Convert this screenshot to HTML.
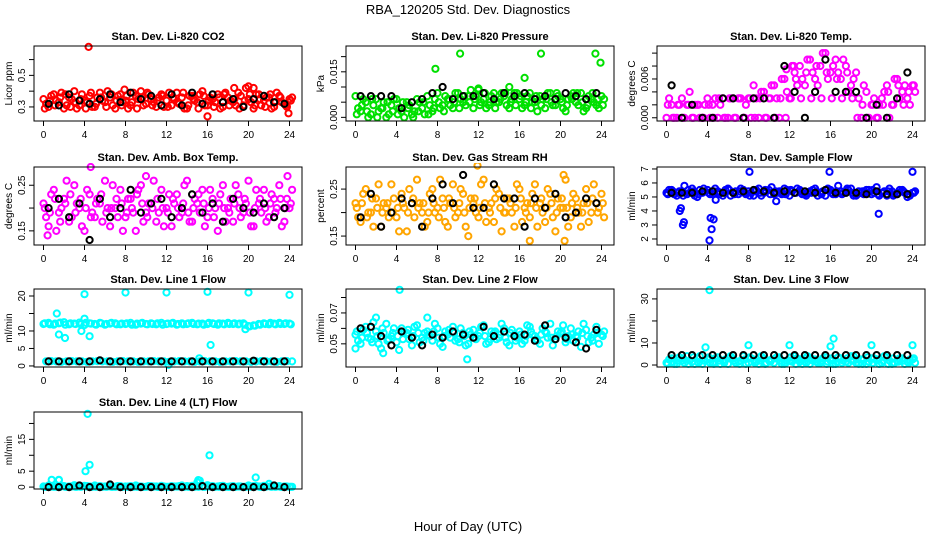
<!DOCTYPE html>
<html><head><meta charset="utf-8">
<style>
html,body{margin:0;padding:0;background:#fff;}
svg{display:block;font-family:"Liberation Sans",Arial,sans-serif;}
</style></head>
<body>
<svg id="chart" width="936" height="540" viewBox="0 0 936 540" xmlns="http://www.w3.org/2000/svg">
<rect x="0" y="0" width="936" height="540" fill="#fff"/>
<text x="468" y="14" text-anchor="middle" font-size="13">RBA_120205  Std. Dev. Diagnostics</text>
<text x="468" y="531" text-anchor="middle" font-size="13">Hour of Day (UTC)</text>
</svg>
<script>
const xTicks=[0,4,8,12,16,20,24];
const co2A=[0.35,0.30,0.38,0.33,0.29,0.36,0.40,0.31,0.34,0.37,0.30,0.39,0.33,0.36,0.29,0.38,0.34,0.31,0.37,0.40,0.32,0.35,0.30,0.38,0.34,0.31,0.39,0.36,0.29,0.37,0.33,0.40,0.31,0.35,0.38,0.30,0.36,0.33,0.39,0.31,0.35,0.29,0.38,0.34,0.36,0.30,0.37,0.32,0.35];
const co2B=[0.32,0.37,0.34,0.39,0.31,0.35,0.29,0.38,0.33,0.30,0.36,0.34,0.40,0.31,0.37,0.33,0.29,0.39,0.35,0.31,0.38,0.33,0.36,0.30,0.39,0.35,0.32,0.29,0.37,0.34,0.38,0.31,0.36,0.33,0.29,0.39,0.34,0.31,0.37,0.42,0.33,0.38,0.31,0.36,0.29,0.39,0.33,0.30,0.36];
const co2C=[0.29,0.34,0.31,0.36,0.38,0.30,0.33,0.35,0.29,0.39,0.32,0.36,0.30,0.38,0.34,0.31,0.37,0.33,0.29,0.36,0.39,0.31,0.34,0.37,0.30,0.36,0.33,0.39,0.31,0.35,0.29,0.37,0.34,0.30,0.36,0.38,0.31,0.35,0.29,0.34,0.38,0.31,0.35,0.30,0.38,0.33,0.36,0.31,0.34];
const co2K=[0.32,0.31,0.38,0.34,0.32,0.35,0.38,0.33,0.39,0.35,0.37,0.31,0.38,0.31,0.39,0.32,0.38,0.33,0.35,0.30,0.35,0.37,0.33,0.32];
const co2OutX=[4.4,16,18.6,20,20.5,23.9,7.9];
const co2OutY=[0.68,0.24,0.42,0.43,0.42,0.26,0.41];
const presA=[0.007,0.002,0.005,0.001,0.006,0.003,0.000,0.004,0.006,0.002,0.005,0.001,0.006,0.003,0.007,0.002,0.008,0.004,0.006,0.003,0.008,0.005,0.007,0.003,0.009,0.006,0.004,0.008,0.005,0.007,0.003,0.008,0.006,0.004,0.008,0.005,0.007,0.003,0.008,0.004,0.006,0.002,0.007,0.005,0.008,0.003,0.006,0.004,0.007];
const presB=[0.003,0.006,0.000,0.004,0.002,0.005,0.001,0.006,0.003,0.000,0.004,0.002,0.005,0.001,0.004,0.006,0.003,0.007,0.004,0.008,0.006,0.004,0.009,0.007,0.005,0.003,0.007,0.005,0.008,0.004,0.006,0.008,0.003,0.007,0.005,0.002,0.006,0.008,0.004,0.007,0.003,0.006,0.008,0.004,0.002,0.007,0.005,0.003,0.006];
const presC=[0.001,0.004,0.002,0.006,0.000,0.003,0.005,0.002,0.001,0.005,0.003,0.000,0.002,0.005,0.001,0.003,0.005,0.002,0.006,0.005,0.003,0.007,0.005,0.006,0.004,0.008,0.005,0.003,0.006,0.008,0.005,0.004,0.007,0.005,0.003,0.007,0.004,0.006,0.005,0.008,0.005,0.004,0.006,0.008,0.005,0.004,0.008,0.006,0.004];
const presK=[0.007,0.007,0.007,0.007,0.003,0.005,0.006,0.008,0.010,0.006,0.007,0.007,0.008,0.006,0.008,0.007,0.008,0.006,0.007,0.006,0.008,0.007,0.006,0.008];
const presOutX=[7.8,10.2,15,16.5,18.1,23.4,23.9,12];
const presOutY=[0.016,0.021,0.010,0.013,0.021,0.021,0.018,0.0095];
const tempA=[0.000,0.002,0.000,0.003,0.002,0.000,0.002,0.000,0.003,0.002,0.000,0.003,0.000,0.003,0.003,0.000,0.003,0.005,0.000,0.004,0.003,0.005,0.000,0.006,0.003,0.007,0.008,0.005,0.009,0.006,0.008,0.010,0.007,0.009,0.006,0.008,0.005,0.007,0.000,0.004,0.002,0.000,0.003,0.005,0.002,0.006,0.004,0.003,0.005];
const tempB=[0.003,0.000,0.002,0.000,0.004,0.002,0.000,0.002,0.000,0.003,0.002,0.000,0.003,0.000,0.003,0.002,0.000,0.003,0.004,0.000,0.005,0.003,0.006,0.004,0.008,0.005,0.006,0.009,0.007,0.005,0.010,0.006,0.008,0.007,0.009,0.004,0.006,0.003,0.005,0.000,0.003,0.002,0.004,0.000,0.006,0.003,0.005,0.002,0.004];
const tempC=[0.002,0.000,0.002,0.000,0.002,0.000,0.002,0.000,0.002,0.000,0.003,0.000,0.003,0.000,0.003,0.000,0.003,0.000,0.003,0.000,0.003,0.000,0.003,0.000,0.003,0.006,0.003,0.007,0.003,0.008,0.003,0.007,0.003,0.006,0.003,0.007,0.003,0.000,0.002,0.000,0.002,0.000,0.002,0.004,0.002,0.005,0.002,0.004,0.005];
const tempK=[0.005,0.000,0.002,0.000,0.000,0.003,0.003,0.000,0.003,0.003,0.000,0.008,0.004,0.000,0.004,0.009,0.004,0.004,0.004,0.000,0.002,0.000,0.003,0.007];
const tempOutX=[11.7,12.4];
const tempOutY=[0.0075,0.008];
const ambA=[0.21,0.16,0.24,0.19,0.22,0.17,0.25,0.20,0.15,0.23,0.18,0.21,0.26,0.16,0.20,0.24,0.18,0.22,0.15,0.25,0.19,0.21,0.17,0.24,0.20,0.16,0.23,0.19,0.26,0.17,0.21,0.24,0.18,0.22,0.15,0.25,0.20,0.17,0.23,0.19,0.26,0.16,0.21,0.24,0.18,0.22,0.25,0.17,0.20];
const ambB=[0.18,0.23,0.15,0.20,0.26,0.18,0.21,0.16,0.24,0.19,0.22,0.17,0.20,0.25,0.18,0.15,0.22,0.19,0.24,0.17,0.21,0.26,0.19,0.16,0.23,0.21,0.18,0.25,0.17,0.22,0.19,0.16,0.24,0.20,0.23,0.17,0.22,0.25,0.18,0.21,0.16,0.24,0.19,0.17,0.23,0.20,0.16,0.22,0.24];
const ambC=[0.20,0.19,0.22,0.17,0.21,0.23,0.19,0.22,0.20,0.18,0.21,0.23,0.19,0.20,0.22,0.21,0.19,0.20,0.23,0.21,0.18,0.20,0.22,0.20,0.19,0.22,0.20,0.21,0.19,0.20,0.23,0.21,0.20,0.18,0.21,0.20,0.19,0.21,0.20,0.22,0.19,0.20,0.22,0.20,0.21,0.19,0.22,0.20,0.21];
const ambK=[0.20,0.22,0.18,0.21,0.13,0.22,0.18,0.20,0.24,0.19,0.21,0.22,0.18,0.20,0.23,0.19,0.21,0.17,0.22,0.20,0.19,0.21,0.18,0.20];
const ambOutX=[4.6,0.4,10,23.8];
const ambOutY=[0.29,0.14,0.27,0.27];
const rhA=[0.22,0.18,0.25,0.20,0.23,0.17,0.21,0.26,0.19,0.24,0.16,0.22,0.27,0.20,0.18,0.25,0.21,0.23,0.17,0.26,0.20,0.24,0.15,0.22,0.19,0.27,0.21,0.18,0.24,0.20,0.23,0.17,0.25,0.21,0.19,0.26,0.22,0.18,0.24,0.16,0.21,0.27,0.19,0.23,0.17,0.25,0.20,0.22,0.24];
const rhB=[0.19,0.24,0.20,0.17,0.26,0.22,0.19,0.23,0.16,0.21,0.25,0.19,0.22,0.17,0.24,0.20,0.27,0.18,0.22,0.19,0.25,0.17,0.23,0.20,0.26,0.18,0.22,0.25,0.16,0.23,0.20,0.26,0.18,0.22,0.24,0.17,0.20,0.25,0.19,0.23,0.21,0.17,0.24,0.20,0.22,0.18,0.26,0.21,0.19];
const rhC=[0.21,0.22,0.19,0.23,0.21,0.20,0.22,0.20,0.21,0.22,0.20,0.23,0.21,0.22,0.20,0.22,0.19,0.21,0.23,0.21,0.22,0.20,0.21,0.23,0.21,0.22,0.20,0.23,0.21,0.20,0.22,0.21,0.23,0.20,0.22,0.21,0.23,0.21,0.22,0.20,0.23,0.21,0.22,0.21,0.20,0.22,0.23,0.20,0.22];
const rhK=[0.19,0.24,0.17,0.20,0.23,0.22,0.17,0.23,0.26,0.22,0.28,0.21,0.21,0.26,0.23,0.23,0.17,0.23,0.21,0.24,0.19,0.20,0.23,0.22];
const rhOutX=[11.9,17,20.3,20.4];
const rhOutY=[0.30,0.14,0.28,0.14];
const sfA=[5.3,5.5,5.1,5.4,5.2,5.6,5.0,5.3,5.5,5.2,5.4,5.1,5.6,5.3,5.2,5.5,5.4,5.1,5.6,5.3,5.5,5.2,5.4,5.6,5.1,5.3,5.5,5.2,5.4,5.6,5.3,5.1,5.5,5.2,5.4,5.3,5.6,5.1,5.3,5.5,5.2,5.7,5.3,5.1,5.4,5.2,5.5,5.0,5.3];
const sfB=[5.5,5.2,5.4,5.8,5.3,5.1,5.5,5.4,5.2,5.6,5.3,5.5,5.1,5.4,5.6,5.2,5.3,5.5,5.1,5.4,5.7,5.3,5.2,5.5,5.4,5.6,5.2,5.3,5.5,5.1,5.4,5.6,5.2,5.8,5.3,5.5,5.1,5.4,5.2,5.5,5.3,5.1,5.4,5.6,5.2,5.5,5.3,5.1,5.4];
const sfC=[5.2,5.4,5.3,5.1,5.5,5.4,5.2,5.6,5.3,5.4,5.2,5.3,5.5,5.2,5.4,5.3,5.1,5.4,5.3,5.5,5.2,5.4,5.3,5.2,5.5,5.3,5.4,5.1,5.3,5.4,5.2,5.5,5.3,5.4,5.2,5.6,5.3,5.2,5.4,5.3,5.5,5.2,5.3,5.4,5.1,5.3,5.4,5.2,5.3];
const sfK=[5.3,5.3,5.3,5.4,5.4,5.3,5.3,5.4,5.5,5.4,5.3,5.4,5.3,5.4,5.3,5.5,5.3,5.3,5.3,5.2,5.4,5.2,5.2,5.2];
const sfOutX=[1.3,1.4,1.6,1.7,4.2,4.3,4.4,4.6,8.1,15.9,20.7,24,4.8,10.7];
const sfOutY=[4.0,4.2,3.0,3.2,1.9,3.5,2.7,3.4,6.8,6.8,3.8,6.8,4.8,4.7];
const l1A=[12.0,12.3,11.8,12.2,12.5,11.9,12.1,12.4,11.7,12.2,12.0,12.3,11.8,12.1,12.2,11.9,12.0,12.3,11.8,12.1,12.0,12.2,11.9,12.3,12.0,12.1,11.8,12.2,12.0,12.3,11.9,12.1,12.0,12.2,11.8,12.1,12.3,12.0,11.9,12.2,11.4,11.6,12.0,12.2,11.9,12.1,12.3,12.0,12.1];
const l1B=[1.3,1.4,1.3,1.2,1.3,1.4,1.3,1.3,1.2,1.3,1.4,1.3,1.3,1.2,1.3,1.4,1.3,1.3,1.2,1.3,1.3,1.4,1.3,1.3,1.2,1.3,1.4,1.3,1.3,1.2,1.3,1.4,1.3,1.3,1.2,1.3,1.3,1.4,1.3,1.3,1.2,1.3,1.4,1.3,1.3,1.2,1.3,1.4,1.3];
const l1C=[12.2,11.9,12.1,12.4,11.8,12.2,12.0,11.9,12.3,12.1,11.8,12.2,12.0,12.3,11.9,12.1,12.2,11.8,12.1,12.3,11.9,12.0,12.2,11.8,12.1,12.3,12.0,11.9,12.2,12.0,12.1,11.8,12.3,12.0,12.2,11.9,12.0,12.2,12.1,11.8,11.3,11.5,11.8,12.0,12.3,11.9,12.0,12.2,11.9];
const l1K=[1.3,1.3,1.3,1.3,1.3,1.6,1.3,1.3,1.3,1.3,1.3,1.3,1.3,1.3,1.3,1.3,1.3,1.3,1.3,1.3,1.5,1.3,1.3,1.3];
const l1OutX=[4,8,12,16,20,24,1.3,1.5,2.1,4.5,16.3,3.7,19.7,15.2,12.2,4.0];
const l1OutY=[20.5,21,21,21.2,21,20.3,15,9,8,8.5,6,10,10.5,2.2,0.3,13.5];
const l2A=[0.056,0.050,0.061,0.053,0.058,0.047,0.063,0.055,0.051,0.060,0.057,0.049,0.062,0.054,0.058,0.052,0.060,0.048,0.056,0.061,0.053,0.057,0.050,0.059,0.055,0.062,0.051,0.057,0.054,0.060,0.049,0.056,0.058,0.052,0.061,0.055,0.050,0.058,0.063,0.053,0.057,0.051,0.060,0.055,0.048,0.059,0.054,0.061,0.056];
const l2B=[0.052,0.059,0.054,0.064,0.050,0.057,0.053,0.060,0.046,0.058,0.053,0.061,0.051,0.057,0.055,0.063,0.050,0.058,0.054,0.052,0.060,0.049,0.056,0.053,0.061,0.050,0.058,0.053,0.063,0.051,0.059,0.054,0.050,0.062,0.056,0.052,0.060,0.054,0.049,0.058,0.062,0.055,0.052,0.058,0.063,0.051,0.056,0.050,0.058];
const l2C=[0.058,0.054,0.057,0.051,0.055,0.060,0.052,0.057,0.055,0.053,0.059,0.055,0.057,0.052,0.056,0.058,0.054,0.055,0.059,0.057,0.051,0.055,0.058,0.054,0.057,0.055,0.053,0.058,0.056,0.054,0.057,0.052,0.056,0.055,0.058,0.053,0.056,0.057,0.054,0.055,0.058,0.053,0.056,0.054,0.057,0.055,0.052,0.057,0.055];
const l2K=[0.060,0.061,0.055,0.049,0.058,0.054,0.049,0.056,0.054,0.058,0.056,0.054,0.061,0.055,0.058,0.055,0.056,0.052,0.062,0.053,0.054,0.051,0.047,0.059];
const l2OutX=[4.3,2,7,10.9,0,2.7];
const l2OutY=[0.085,0.067,0.067,0.040,0.047,0.044];
const l3A=[1,3,0.5,2,4,1.5,3,0.5,2.5,1,3.5,2,0.5,3,1.5,4,1,2.5,0.5,3,2,1,3.5,0.5,2,4,1.5,3,0.5,2.5,1,3.5,2,0.5,3,1.5,4,1,2.5,0.5,3,2,1,3.5,0.5,2,3,1.5,2.5];
const l3B=[2.5,0.5,3.5,1,2,0.5,4,2,1,3,0.5,2.5,4,1,2,0.5,3,1.5,4,1,2.5,3.5,0.5,2,1.5,3,0.5,4,2,1,3,1.5,0.5,3.5,2,1,4,0.5,2.5,1.5,3,0.5,4,2,1,3,0.5,2.5,1];
const l3C=[0.5,1.5,2,3,0.5,3.5,1,2,3.5,0.5,2,1,3,2,0.5,2.5,3.5,1,2,0.5,1.5,3,2,1,3.5,0.5,2.5,1,3,1.5,2,0.5,3,1.5,1,3,2,2.5,0.5,3.5,1,2.5,2,0.5,3,1.5,2,1,3];
const l3K=[4.5,4.5,4.5,4.5,4.5,4.5,4.5,4.5,4.5,4.5,4.5,4.5,4.5,4.5,4.5,4.5,4.5,4.5,4.5,4.5,4.5,4.5,4.5,4.5];
const l3OutX=[4.2,3.8,8,12,16,16.3,20,24];
const l3OutY=[34,8,9,9,8.5,12,9,9];
const l4A=[0.2,0.5,0.1,2.2,0.3,0.2,0.6,0.3,0.4,0.2,0.5,0.3,0.2,0.4,0.1,0.3,0.2,0.3,0.5,0.2,0.1,0.3,0.2,0.4,0.1,0.3,0.2,0.5,0.3,0.4,1.5,0.2,0.6,0.3,0.2,0.4,0.1,0.3,0.2,0.1,0.5,0.3,0.2,0.4,1.0,0.2,0.3,0.2,0.1];
const l4B=[0.1,0.2,0.1,0.3,0.1,0.2,0.1,0.2,0.3,0.1,0.2,0.1,0.2,0.1,0.3,0.1,0.2,0.1,0.2,0.1,0.3,0.2,0.1,0.2,0.1,0.2,0.3,0.1,0.2,0.1,2.0,0.1,0.2,0.1,0.3,0.1,0.2,0.1,0.2,0.1,0.2,0.3,0.1,0.2,0.1,0.2,0.1,0.2,0.1];
const l4C=[0.1,0.1,0.2,0.1,0.1,0.2,0.1,0.1,0.2,0.1,0.1,0.2,0.1,0.1,0.2,0.1,0.1,0.2,0.1,0.1,0.2,0.1,0.1,0.2,0.1,0.1,0.2,0.1,0.1,0.2,0.1,0.1,0.2,0.1,0.1,0.2,0.1,0.1,0.2,0.1,0.1,0.2,0.1,0.1,0.2,0.1,0.1,0.2,0.1];
const l4K=[0,0,0,0.5,0,0,0.8,0,0,0,0,0,0,0,0,0.3,0,0,0,0,0,0,0.5,0];
const l4OutX=[4.3,4.5,4.1,0.8,1.5,16.2,20.7,15.1];
const l4OutY=[23,7,5,2.3,2.3,10,3,2.2];

const panels=[
 {name:'co2',title:'Stan. Dev. Li-820 CO2',ylab:'Licor ppm',col:0,row:0,dom:[0.211,0.686],ticks:[0.3,0.4,0.5,0.6],labs:['0.3','','0.5',''],color:'#ff0000',a:co2A,b:co2B,c:co2C,k:co2K,ox:co2OutX,oy:co2OutY},
 {name:'pressure',title:'Stan. Dev. Li-820 Pressure',ylab:'kPa',col:1,row:0,dom:[-0.0012,0.0235],ticks:[0,0.005,0.01,0.015,0.02],labs:['0.000','','','0.015',''],color:'#00e000',a:presA,b:presB,c:presC,k:presK,ox:presOutX,oy:presOutY},
 {name:'temp',title:'Stan. Dev. Li-820 Temp.',ylab:'degrees C',col:2,row:0,dom:[-0.0005,0.0111],ticks:[0,0.002,0.004,0.006,0.008,0.010],labs:['0.000','','','0.006','',''],color:'#ff00ff',a:tempA,b:tempB,c:tempC,k:tempK,ox:tempOutX,oy:tempOutY},
 {name:'amb-box-temp',title:'Stan. Dev. Amb. Box Temp.',ylab:'degrees C',col:0,row:1,dom:[0.119,0.29],ticks:[0.15,0.20,0.25],labs:['0.15','','0.25'],color:'#ff00ff',a:ambA,b:ambB,c:ambC,k:ambK,ox:ambOutX,oy:ambOutY},
 {name:'gas-rh',title:'Stan. Dev. Gas Stream RH',ylab:'percent',col:1,row:1,dom:[0.131,0.297],ticks:[0.15,0.20,0.25],labs:['0.15','','0.25'],color:'#ffa500',a:rhA,b:rhB,c:rhC,k:rhK,ox:rhOutX,oy:rhOutY},
 {name:'sample-flow',title:'Stan. Dev. Sample Flow',ylab:'ml/min',col:2,row:1,dom:[1.57,7.14],ticks:[2,3,4,5,6,7],labs:['2','3','4','5','6','7'],color:'#0000ff',a:sfA,b:sfB,c:sfC,k:sfK,ox:sfOutX,oy:sfOutY},
 {name:'line1',title:'Stan. Dev. Line 1 Flow',ylab:'ml/min',col:0,row:2,dom:[-0.3,22],ticks:[0,5,10,15,20],labs:['0','5','10','','20'],color:'#00ffff',a:l1A,b:l1B,c:l1C,k:l1K,ox:l1OutX,oy:l1OutY},
 {name:'line2',title:'Stan. Dev. Line 2 Flow',ylab:'ml/min',col:1,row:2,dom:[0.035,0.0855],ticks:[0.05,0.06,0.07,0.08],labs:['0.05','','0.07',''],color:'#00ffff',a:l2A,b:l2B,c:l2C,k:l2K,ox:l2OutX,oy:l2OutY},
 {name:'line3',title:'Stan. Dev. Line 3 Flow',ylab:'ml/min',col:2,row:2,dom:[-0.9,34.5],ticks:[0,10,20,30],labs:['0','10','','30'],color:'#00ffff',a:l3A,b:l3B,c:l3C,k:l3K,ox:l3OutX,oy:l3OutY},
 {name:'line4',title:'Stan. Dev. Line 4 (LT) Flow',ylab:'ml/min',col:0,row:3,dom:[-0.6,23.6],ticks:[0,5,10,15,20],labs:['0','5','','15',''],color:'#00ffff',a:l4A,b:l4B,c:l4C,k:l4K,ox:l4OutX,oy:l4OutY}
];
const colLeft=[34,346,657], boxW=268;
const rowBox=[[46,121],[167,245],[289,367],[412,489]];
const NS='http://www.w3.org/2000/svg';
const svg=document.getElementById('chart');
function mk(tag,attrs,parent){const e=document.createElementNS(NS,tag);for(const k in attrs)e.setAttribute(k,attrs[k]);(parent||svg).appendChild(e);return e;}

panels.forEach(p=>{
 const L=colLeft[p.col], R=L+boxW, T=rowBox[p.row][0], B=rowBox[p.row][1];
 const xs=h=>L+9.5+h*10.25;
 const ys=v=>B-(v-p.dom[0])/(p.dom[1]-p.dom[0])*(B-T);
 const g=mk('g',{});
 
 
 const clip=mk('clipPath',{id:'c-'+p.name},g);
 mk('rect',{x:L-4,y:T-4,width:boxW+8,height:B-T+8},clip);
 const pts=mk('g',{'clip-path':'url(#c-'+p.name+')'},g);
 
 
 const dot=(x,y,c,nm)=>{const e=mk('circle',{cx:x.toFixed(1),cy:y.toFixed(1),r:3.1,fill:'none',stroke:c,'stroke-width':2},pts);
  
  };
 p.a.forEach((v,i)=>dot(xs(i*0.5),ys(v),p.color,'point'));
 p.b.forEach((v,i)=>dot(xs(i*0.5+0.25),ys(v),p.color,'point'));
 p.c.forEach((v,i)=>dot(xs(i*0.5+0.125),ys(v),p.color,'point'));
 p.ox.forEach((h,i)=>dot(xs(h),ys(p.oy[i]),p.color,'outlier-point'));
 p.k.forEach((v,i)=>dot(xs(i+0.5),ys(v),'#000','mean-point'));
 const box=mk('rect',{x:L,y:T,width:boxW,height:B-T,fill:'none',stroke:'#000','stroke-width':1},g);
 
 
 const t=mk('text',{x:(L+R)/2,y:T-6,'text-anchor':'middle','font-size':11,'font-weight':'bold'},g);
 t.textContent=p.title;
 
 
 mk('line',{x1:xs(0),x2:xs(24),y1:B,y2:B,stroke:'#000'},g);
 xTicks.forEach(h=>{mk('line',{x1:xs(h),x2:xs(h),y1:B,y2:B+5,stroke:'#000'},g);
  const tx=mk('text',{x:xs(h),y:B+17,'text-anchor':'middle','font-size':10},g);tx.textContent=h;
  
  });
 const t0=ys(p.ticks[0]), t1=ys(p.ticks[p.ticks.length-1]);
 mk('line',{x1:L,x2:L,y1:t0,y2:t1,stroke:'#000'},g);
 p.ticks.forEach((v,i)=>{const y=ys(v);mk('line',{x1:L-5,x2:L,y1:y,y2:y,stroke:'#000'},g);
  if(p.labs[i]){const ty=mk('text',{x:L-9,y:y,'text-anchor':'middle','font-size':10,transform:'rotate(-90 '+(L-9)+' '+y+')'},g);ty.textContent=p.labs[i];
   
   }});
 const yl=mk('text',{x:L-22,y:(T+B)/2,'text-anchor':'middle','font-size':10,transform:'rotate(-90 '+(L-22)+' '+((T+B)/2)+')'},g);
 yl.textContent=p.ylab;
 
 
});
</script>
</body></html>
